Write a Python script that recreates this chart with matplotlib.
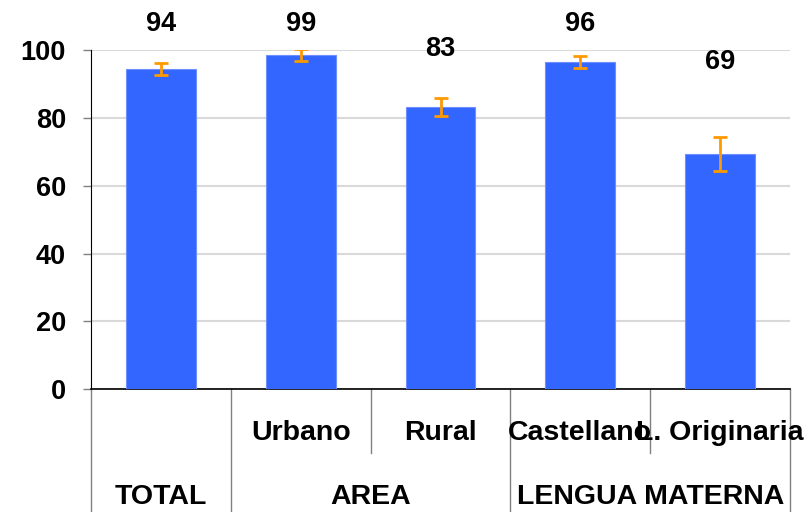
import numpy as np
import matplotlib.pyplot as plt
import matplotlib.transforms as mtransforms

# datos del grafico
categorias = ['', 'Urbano', 'Rural', 'Castellano', 'L. Originaria']
grupos = ['TOTAL', 'AREA', 'LENGUA MATERNA']
grupo_tam = [1, 2, 2]
valores = [94.4, 98.5, 83.2, 96.5, 69.3]
errores = [1.8, 1.8, 2.6, 1.9, 5.0]
etiquetas = ['94', '99', '83', '96', '69']
altura_etiqueta = [107.7, 107.7, 100.3, 107.7, 96.5]

plt.rcParams['font.family'] = ['Liberation Sans', 'DejaVu Sans']
plt.rcParams['font.weight'] = 'bold'

fig = plt.figure(figsize=(8.12, 5.12), dpi=100)
ax = fig.add_axes([0.112, 0.240, 0.861, 0.662])

x = np.arange(len(valores))
ax.bar(x, valores, width=0.5, color='#3366FF', edgecolor='#6f8fff', linewidth=0.8, zorder=3)
ax.errorbar(x, valores, yerr=errores, fmt='none', ecolor='#FF9900', elinewidth=2,
            capsize=5, capthick=2, zorder=4)

for xi, txt, h in zip(x, etiquetas, altura_etiqueta):
    ax.text(xi, h, txt, ha='center', va='center', fontsize=19.5, fontweight='bold', clip_on=False)

ax.set_xlim(-0.5, len(valores) - 0.5)
ax.set_ylim(0, 100)
ax.set_yticks([0, 20, 40, 60, 80, 100])
ax.tick_params(axis='y', labelsize=19.5, length=6, width=1, pad=12, color='#808080')
for t in ax.get_yticklabels():
    t.set_fontweight('bold')
ax.set_xticks([])
ax.yaxis.grid(True, color='#d9d9d9', linewidth=1.5, zorder=0)
ax.set_axisbelow(True)
for s in ['top', 'right']:
    ax.spines[s].set_visible(False)
ax.spines['left'].set_color('black')
ax.spines['bottom'].set_color('black')
ax.spines['bottom'].set_linewidth(1.2)

# eje de categorias de dos niveles
trans = mtransforms.blended_transform_factory(ax.transData, ax.transAxes)
for xi, cat in zip(x, categorias):
    ax.text(xi, -0.128, cat, transform=trans, ha='center', va='center', fontsize=20.5,
            fontweight='bold')
inicio = -0.5
limites = [inicio]
for g, n in zip(grupos, grupo_tam):
    ax.text(inicio + n / 2, -0.318, g, transform=trans, ha='center', va='center',
            fontsize=20.5, fontweight='bold')
    inicio += n
    limites.append(inicio)
for b in limites:
    ax.plot([b, b], [0, -0.37], transform=trans, color='#808080', lw=1, clip_on=False)
for b in np.arange(-0.5, len(valores) - 0.5, 1.0):
    if b not in limites:
        ax.plot([b, b], [0, -0.189], transform=trans, color='#808080', lw=1, clip_on=False)

fig.savefig('out.png', dpi=100)
